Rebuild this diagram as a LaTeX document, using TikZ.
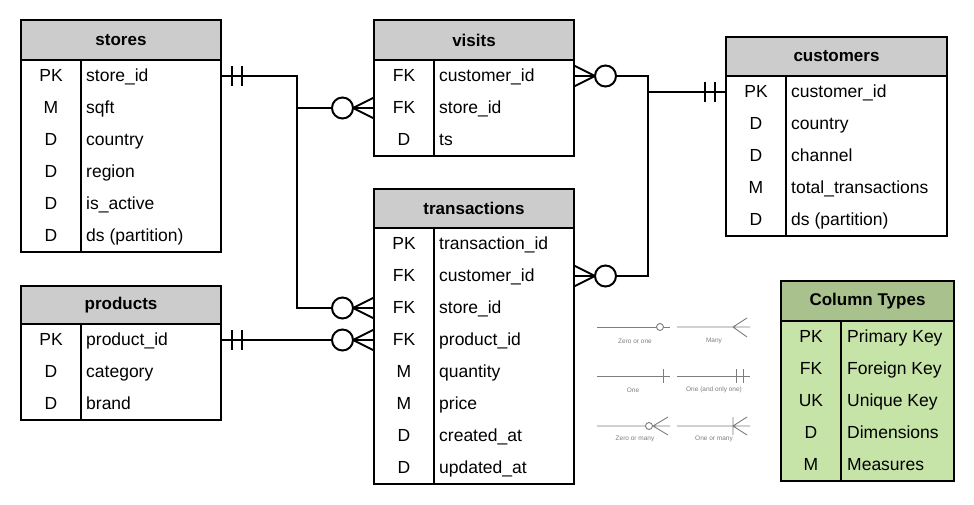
\documentclass[tikz,border=0pt]{standalone}
\usepackage{fontspec}
\setmainfont{Liberation Sans}
\usetikzlibrary{positioning}

\definecolor{headgray}{HTML}{CCCCCC}
\definecolor{leghead}{RGB}{169,193,141}
\definecolor{legbody}{RGB}{198,228,168}
\definecolor{notegray}{RGB}{125,125,125}

\tikzset{
  tabline/.style={line width=2.2pt},
  tabhead/.style={draw, tabline, fill=headgray, inner sep=0pt, outer sep=0pt, font=\fontsize{17}{20}\selectfont\bfseries},
  tabbody/.style={draw, tabline, inner sep=0pt, outer sep=0pt},
  keytxt/.style={inner sep=0pt, text height=10.5pt, text depth=0pt, anchor=center, font=\fontsize{17.5}{21}\selectfont},
  coltxt/.style={keytxt, anchor=west},
  link/.style={line width=2pt, line join=miter},
  note/.style={draw=notegray, line width=0.9pt},
  notetxt/.style={inner sep=0pt, text=notegray, font=\fontsize{6.5}{8}\selectfont}
}

% crow's foot with circle, at a table edge
\newcommand{\zeromany}[2]{%
  \begin{scope}[shift={#1}, xscale=#2]
    \draw[link] (-21,0) -- (0,-10.5) (-21,0) -- (0,10.5);
    \draw[link, fill=white] (-31.5,0) circle[radius=10.5];
  \end{scope}}
% two bars, at a table edge
\newcommand{\onlyone}[2]{%
  \begin{scope}[shift={#1}, xscale=#2]
    \draw[link] (11,-10) -- (11,10) (21,-10) -- (21,10);
  \end{scope}}

\begin{document}
\begin{tikzpicture}[x=1pt, y=-1pt]
	\useasboundingbox (0,0) rectangle (974,505);

	% stores
	\node[tabhead, minimum width=200pt, minimum height=40pt, anchor=north west] (stores) at (21,20) {stores};
	\node[tabbody, minimum width=200pt, minimum height=192pt, below=0pt of stores] (storesb) {};
	\draw[tabline] ([xshift=60pt]storesb.north west) -- ([xshift=60pt]storesb.south west);
	\node[keytxt] (st1k) at (51,76) {PK};  \node[coltxt] (st1) at (86,76) {store\_id};
	\node[keytxt] (st2k) at (51,108) {M};  \node[coltxt] (st2) at (86,108) {sqft};
	\node[keytxt] (st3k) at (51,140) {D};  \node[coltxt] (st3) at (86,140) {country};
	\node[keytxt] (st4k) at (51,172) {D};  \node[coltxt] (st4) at (86,172) {region};
	\node[keytxt] (st5k) at (51,204) {D};  \node[coltxt] (st5) at (86,204) {is\_active};
	\node[keytxt] (st6k) at (51,236) {D};  \node[coltxt] (st6) at (86,236) {ds (partition)};

	% products
	\node[tabhead, minimum width=200pt, minimum height=38pt, anchor=north west] (products) at (21,286) {products};
	\node[tabbody, minimum width=200pt, minimum height=96pt, below=0pt of products] (productsb) {};
	\draw[tabline] ([xshift=60pt]productsb.north west) -- ([xshift=60pt]productsb.south west);
	\node[keytxt] (pr1k) at (51,340) {PK};  \node[coltxt] (pr1) at (86,340) {product\_id};
	\node[keytxt] (pr2k) at (51,372) {D};   \node[coltxt] (pr2) at (86,372) {category};
	\node[keytxt] (pr3k) at (51,404) {D};   \node[coltxt] (pr3) at (86,404) {brand};

	% visits
	\node[tabhead, minimum width=200pt, minimum height=40pt, anchor=north west] (visits) at (374,20) {visits};
	\node[tabbody, minimum width=200pt, minimum height=96pt, below=0pt of visits] (visitsb) {};
	\draw[tabline] ([xshift=60pt]visitsb.north west) -- ([xshift=60pt]visitsb.south west);
	\node[keytxt] (vi1k) at (404,76) {FK};  \node[coltxt] (vi1) at (439,76) {customer\_id};
	\node[keytxt] (vi2k) at (404,108) {FK}; \node[coltxt] (vi2) at (439,108) {store\_id};
	\node[keytxt] (vi3k) at (404,140) {D};  \node[coltxt] (vi3) at (439,140) {ts};

	% transactions
	\node[tabhead, minimum width=200pt, minimum height=39pt, anchor=north west] (trans) at (374,189) {transactions};
	\node[tabbody, minimum width=200pt, minimum height=256pt, below=0pt of trans] (transb) {};
	\draw[tabline] ([xshift=60pt]transb.north west) -- ([xshift=60pt]transb.south west);
	\node[keytxt] (tr1k) at (404,244) {PK}; \node[coltxt] (tr1) at (439,244) {transaction\_id};
	\node[keytxt] (tr2k) at (404,276) {FK}; \node[coltxt] (tr2) at (439,276) {customer\_id};
	\node[keytxt] (tr3k) at (404,308) {FK}; \node[coltxt] (tr3) at (439,308) {store\_id};
	\node[keytxt] (tr4k) at (404,340) {FK}; \node[coltxt] (tr4) at (439,340) {product\_id};
	\node[keytxt] (tr5k) at (404,372) {M};  \node[coltxt] (tr5) at (439,372) {quantity};
	\node[keytxt] (tr6k) at (404,404) {M};  \node[coltxt] (tr6) at (439,404) {price};
	\node[keytxt] (tr7k) at (404,436) {D};  \node[coltxt] (tr7) at (439,436) {created\_at};
	\node[keytxt] (tr8k) at (404,468) {D};  \node[coltxt] (tr8) at (439,468) {updated\_at};

	% customers
	\node[tabhead, minimum width=221pt, minimum height=39pt, anchor=north west] (customers) at (726,37) {customers};
	\node[tabbody, minimum width=221pt, minimum height=160pt, below=0pt of customers] (customersb) {};
	\draw[tabline] ([xshift=60pt]customersb.north west) -- ([xshift=60pt]customersb.south west);
	\node[keytxt] (cu1k) at (756,92) {PK};  \node[coltxt] (cu1) at (791,92) {customer\_id};
	\node[keytxt] (cu2k) at (756,124) {D};  \node[coltxt] (cu2) at (791,124) {country};
	\node[keytxt] (cu3k) at (756,156) {D};  \node[coltxt] (cu3) at (791,156) {channel};
	\node[keytxt] (cu4k) at (756,188) {M};  \node[coltxt] (cu4) at (791,188) {total\_transactions};
	\node[keytxt] (cu5k) at (756,220) {D};  \node[coltxt] (cu5) at (791,220) {ds (partition)};

	% column types
	\node[tabhead, fill=leghead, minimum width=173pt, minimum height=40pt, anchor=north west] (types) at (781,281) {Column Types};
	\node[tabbody, fill=legbody, minimum width=173pt, minimum height=160pt, below=0pt of types] (typesb) {};
	\draw[tabline] ([xshift=60pt]typesb.north west) -- ([xshift=60pt]typesb.south west);
	\node[keytxt] (ty1k) at (811,337) {PK}; \node[coltxt] (ty1) at (847,337) {Primary Key};
	\node[keytxt] (ty2k) at (811,369) {FK}; \node[coltxt] (ty2) at (847,369) {Foreign Key};
	\node[keytxt] (ty3k) at (811,401) {UK}; \node[coltxt] (ty3) at (847,401) {Unique Key};
	\node[keytxt] (ty4k) at (811,433) {D};  \node[coltxt] (ty4) at (847,433) {Dimensions};
	\node[keytxt] (ty5k) at (811,465) {M};  \node[coltxt] (ty5) at (847,465) {Measures};

	% relations
	\coordinate (j1) at (297,0);
	\coordinate (j2) at (648,0);
	\draw[link] (storesb.east |- st1k) -| (j1 |- tr3k) -- (transb.west |- tr3k);
	\draw[link] (j1 |- vi2k) -- (visitsb.west |- vi2k);
	\draw[link] (productsb.east |- pr1k) -- (transb.west |- tr4k);
	\draw[link] (visitsb.east |- vi1k) -| (j2 |- cu1k) -- (customersb.west |- cu1k);
	\draw[link] (transb.east |- tr2k) -| (j2 |- cu1k);
	\onlyone{(storesb.east |- st1k)}{1}
	\onlyone{(productsb.east |- pr1k)}{1}
	\onlyone{(customersb.west |- cu1k)}{-1}
	\zeromany{(visitsb.west |- vi2k)}{1}
	\zeromany{(transb.west |- tr3k)}{1}
	\zeromany{(transb.west |- tr4k)}{1}
	\zeromany{(visitsb.east |- vi1k)}{-1}
	\zeromany{(transb.east |- tr2k)}{-1}

	% notation key
	\node[notetxt] (zo) at (635,341) {Zero or one};
	\node[notetxt] (many) at (714,341) {Many};
	\node[notetxt] (one) at (633,390) {One};
	\node[notetxt] (oo) at (714,390) {One (and only one)};
	\node[notetxt] (zm) at (635,439) {Zero or many};
	\node[notetxt] (om) at (714,439) {One or many};
	\draw[note] (597,327) -- (670,327);
	\draw[note, fill=white] (660,327) circle[radius=3.5];
	\draw[note] (677,327) -- (750,327) (733,327) -- (747,318) (733,327) -- (747,337);
	\draw[note] (597,376) -- (670,376) (663,369) -- (663,383);
	\draw[note] (677,376) -- (750,376) (736,369) -- (736,383) (743,369) -- (743,383);
	\draw[note] (597,426) -- (670,426) (653,426) -- (668,417) (653,426) -- (668,435);
	\draw[note, fill=white] (649,426) circle[radius=3.5];
	\draw[note] (677,426) -- (750,426) (733,417) -- (733,435) (733,426) -- (747,417) (733,426) -- (747,435);
\end{tikzpicture}
\end{document}
